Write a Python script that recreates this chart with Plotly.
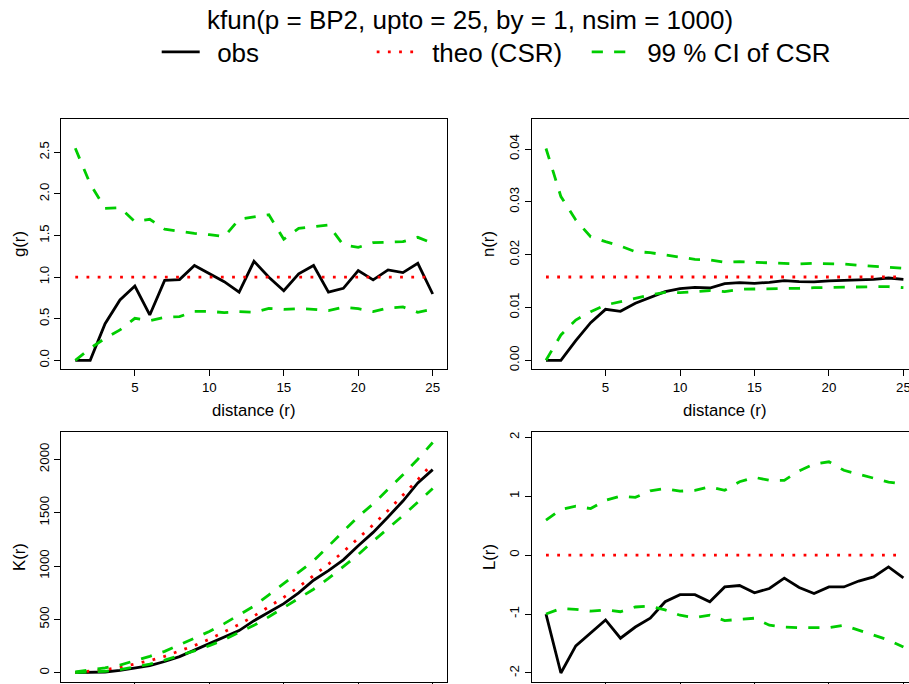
import plotly.graph_objects as go

# ---- data -------------------------------------------------------------
r = [1, 2, 3, 4, 5, 6, 7, 8, 9, 10, 11, 12, 13, 14, 15, 16, 17, 18, 19, 20, 21, 22, 23, 24, 25]

g_obs = [0.0, 0.0, 0.44, 0.725, 0.893, 0.545, 0.96, 0.97, 1.14, 1.045, 0.945, 0.82, 1.19,
         0.998, 0.837, 1.04, 1.14, 0.82, 0.865, 1.078, 0.966, 1.086, 1.054, 1.166, 0.797]
g_theo = [1.0] * 25
g_hi = [2.548, 2.12, 1.827, 1.835, 1.667, 1.695, 1.575, 1.546, 1.526, 1.51, 1.486, 1.695, 1.727,
        1.75, 1.454, 1.587, 1.607, 1.627, 1.386, 1.358, 1.414, 1.418, 1.426, 1.478, 1.406]
g_lo = [0.0, 0.144, 0.264, 0.365, 0.505, 0.477, 0.517, 0.525, 0.589, 0.589, 0.573, 0.585, 0.577,
        0.625, 0.613, 0.621, 0.613, 0.597, 0.637, 0.621, 0.585, 0.629, 0.641, 0.577, 0.613]

n_obs = [0.0, 0.0, 0.00372, 0.00713, 0.00965, 0.00927, 0.01079, 0.01192, 0.0130, 0.01356, 0.01382,
         0.01369, 0.01451, 0.0147, 0.01457, 0.01476, 0.01508, 0.01489, 0.01483, 0.01502, 0.01508,
         0.0152, 0.01533, 0.01558, 0.01533]
n_theo = [0.01577] * 25
n_hi = [0.0401, 0.031, 0.02656, 0.0234, 0.02246, 0.02164, 0.02057, 0.02038, 0.01994, 0.0195, 0.01912,
        0.01899, 0.01855, 0.01868, 0.01855, 0.01836, 0.01823, 0.01823, 0.01836, 0.01836, 0.01823,
        0.01798, 0.01779, 0.01754, 0.01741]
n_lo = [0.0, 0.0048, 0.00763, 0.00921, 0.01047, 0.0111, 0.01186, 0.01237, 0.01287, 0.01281, 0.013,
        0.01319, 0.013, 0.01344, 0.0135, 0.0135, 0.0135, 0.01363, 0.01375, 0.01382, 0.01394,
        0.01394, 0.01394, 0.01394, 0.01375]

K_obs = [0.0, 0.0, 6.7, 22.6, 47.8, 66.2, 105.0, 150.9, 211.8, 273.5, 335.2, 394.8, 487.7, 571.3,
         647.8, 748.4, 866.7, 956.6, 1057.9, 1189.7, 1315.1, 1460.3, 1608.9, 1779.5, 1903.5]
K_theo = [3.14, 12.57, 28.27, 50.27, 78.54, 113.1, 153.9, 201.1, 254.5, 314.2, 380.1, 452.4, 530.9,
          615.8, 706.9, 804.2, 907.9, 1017.9, 1134.1, 1256.6, 1385.4, 1520.5, 1661.9, 1809.6, 1963.5]
K_hi = [7.98, 24.2, 46.1, 72.1, 110.5, 153.9, 200.1, 259.6, 322.4, 386.1, 460.0, 544.1, 624.6, 730.1,
        836.7, 937.0, 1048.6, 1186.0, 1326.0, 1463.7, 1582.0, 1716.5, 1855.1, 2001.4, 2157.3]
K_lo = [0.0, 3.77, 13.6, 29.2, 52.0, 79.8, 117.7, 159.9, 204.6, 253.3, 310.4, 378.7, 444.1, 524.0,
        609.6, 689.1, 782.3, 883.5, 992.0, 1106.8, 1232.9, 1350.0, 1472.5, 1598.9, 1726.1]

L_obs = [-1.0, -2.0, -1.54, -1.32, -1.10, -1.41, -1.22, -1.07, -0.79, -0.67, -0.67, -0.79, -0.54,
         -0.515, -0.64, -0.566, -0.39, -0.55, -0.65, -0.54, -0.54, -0.44, -0.37, -0.20, -0.385]
L_theo = [0.0] * 25
L_hi = [0.594, 0.775, 0.83, 0.79, 0.93, 1.0, 0.98, 1.09, 1.13, 1.086, 1.10, 1.16, 1.10, 1.245, 1.32,
        1.27, 1.27, 1.43, 1.545, 1.585, 1.44, 1.375, 1.30, 1.24, 1.205]
L_lo = [-1.0, -0.905, -0.92, -0.95, -0.93, -0.96, -0.88, -0.865, -0.93, -1.02, -1.06, -1.02, -1.11,
        -1.085, -1.07, -1.19, -1.22, -1.23, -1.23, -1.23, -1.19, -1.27, -1.35, -1.44, -1.56]

x_ticks = [5, 10, 15, 20, 25]
g_ticks = [0.0, 0.5, 1.0, 1.5, 2.0, 2.5]
g_ticktext = ["0.0", "0.5", "1.0", "1.5", "2.0", "2.5"]
n_ticks = [0.0, 0.01, 0.02, 0.03, 0.04]
n_ticktext = ["0.00", "0.01", "0.02", "0.03", "0.04"]
K_ticks = [0, 500, 1000, 1500, 2000]
K_ticktext = ["0", "500", "1000", "1500", "2000"]
L_ticks = [-2, -1, 0, 1, 2]
L_ticktext = ["-2", "-1", "0", "1", "2"]

title_text = "kfun(p = BP2, upto = 25, by = 1, nsim = 1000)"
legend_names = ["obs", "theo (CSR)", "99 % CI of CSR"]
x_label = "distance (r)"
y_labels = ["g(r)", "n(r)", "K(r)", "L(r)"]

# ---- styling ----------------------------------------------------------
W, H = 909, 684
FONT = "Liberation Sans, Arial, Helvetica, sans-serif"
GREEN = "#00CD00"
RED = "#FF0000"
LW = 2.8
obs_line = dict(color="black", width=LW)
theo_line = dict(color=RED, width=LW, dash="2.8px,8.4px")
ci_line = dict(color=GREEN, width=LW, dash="11.2px,11.2px")
PAD = "\u00a0\u2009"  # gap between legend key and its text


def px_x(p):
    return p / W


def px_y(p):
    return 1 - p / H


fig = go.Figure()

panels = [
    (g_obs, g_theo, g_hi, g_lo, "x", "y"),
    (n_obs, n_theo, n_hi, n_lo, "x2", "y2"),
    (K_obs, K_theo, K_hi, K_lo, "x3", "y3"),
    (L_obs, L_theo, L_hi, L_lo, "x4", "y4"),
]

for i, (obs, theo, hi, lo, xa, ya) in enumerate(panels):
    first = i == 0
    fig.add_trace(go.Scatter(x=r, y=obs, mode="lines", line=obs_line, xaxis=xa, yaxis=ya,
                             name=PAD + legend_names[0], showlegend=first, legend="legend"))
    fig.add_trace(go.Scatter(x=r, y=theo, mode="lines", line=theo_line, xaxis=xa, yaxis=ya,
                             name=PAD + legend_names[1], showlegend=first, legend="legend2"))
    fig.add_trace(go.Scatter(x=r, y=hi, mode="lines", line=ci_line, xaxis=xa, yaxis=ya,
                             name=PAD + legend_names[2], showlegend=first, legend="legend3"))
    fig.add_trace(go.Scatter(x=r, y=lo, mode="lines", line=ci_line, xaxis=xa, yaxis=ya,
                             name=PAD + legend_names[2], showlegend=False, legend="legend3"))

# plot boxes in pixels
left_x = [61, 447]
right_x = [531.7, 909]
top_y = [119, 369.3]
bot_y = [431.7, 682]
unit = (447 - 61) / 25.92  # px per r unit
right_max = 0.04 + (909 - 531.7) / unit

tickfont = dict(family=FONT, size=13.3, color="black")
common_x = dict(showline=True, linecolor="black", linewidth=1, mirror=True, ticks="outside",
                ticklen=6, tickwidth=1, tickcolor="black", tickvals=x_ticks, showgrid=False,
                zeroline=False, tickfont=tickfont, automargin=False, ticklabeloverflow="allow")
common_y = dict(showline=True, linecolor="black", linewidth=1, ticks="outside", ticklen=6,
                tickwidth=1, tickcolor="black", showgrid=False, zeroline=False, tickfont=tickfont,
                tickangle=-90, automargin=False)

fig.update_layout(
    xaxis=dict(common_x, domain=[px_x(left_x[0]), px_x(left_x[1])], range=[0.04, 25.96], anchor="y"),
    yaxis=dict(common_y, domain=[px_y(top_y[1]), px_y(top_y[0])], range=[-0.108, 2.90], anchor="x",
               mirror=True, tickvals=g_ticks, ticktext=g_ticktext),
    xaxis2=dict(common_x, domain=[px_x(right_x[0]), 1.0], range=[0.04, right_max], anchor="y2"),
    yaxis2=dict(common_y, domain=[px_y(top_y[1]), px_y(top_y[0])], range=[-0.0017, 0.04568],
                anchor="x2", mirror=False, tickvals=n_ticks, ticktext=n_ticktext),
    xaxis3=dict(common_x, domain=[px_x(left_x[0]), px_x(left_x[1])], range=[0.04, 25.96],
                anchor="y3", showticklabels=False),
    yaxis3=dict(common_y, domain=[px_y(bot_y[1]), px_y(bot_y[0])], range=[-87, 2259], anchor="x3",
                mirror=True, tickvals=K_ticks, ticktext=K_ticktext),
    xaxis4=dict(common_x, domain=[px_x(right_x[0]), 1.0], range=[0.04, right_max], anchor="y4",
                showticklabels=False),
    yaxis4=dict(common_y, domain=[px_y(bot_y[1]), px_y(bot_y[0])], range=[-2.153, 2.095],
                anchor="x4", mirror=False, tickvals=L_ticks, ticktext=L_ticktext),
)

lab_font = dict(family=FONT, size=16.7, color="black")
annotations = [
    dict(text=title_text, x=px_x(470), y=px_y(20), font=dict(family=FONT, size=26, color="black")),
    dict(text=x_label, x=px_x(254), y=px_y(410), font=lab_font),
    dict(text=x_label, x=px_x(724), y=px_y(410), font=lab_font),
    dict(text=y_labels[0], x=px_x(20), y=px_y(244), textangle=-90, font=lab_font),
    dict(text=y_labels[1], x=px_x(489), y=px_y(244), textangle=-90, font=lab_font),
    dict(text=y_labels[2], x=px_x(19), y=px_y(557), textangle=-90, font=lab_font),
    dict(text=y_labels[3], x=px_x(489), y=px_y(557), textangle=-90, font=lab_font),
]
for a in annotations:
    a.update(xref="paper", yref="paper", showarrow=False, xanchor="center", yanchor="middle")


def legend_at(line_start):
    return dict(orientation="h", x=px_x(line_start - 5), y=px_y(52), xanchor="left",
                yanchor="middle", font=dict(family=FONT, size=26, color="black"),
                bgcolor="rgba(0,0,0,0)", itemwidth=38, itemclick=False, itemdoubleclick=False)


fig.update_layout(
    width=W, height=H, autosize=False,
    margin=dict(l=0, r=0, t=0, b=0),
    paper_bgcolor="white", plot_bgcolor="white",
    font=dict(family=FONT, color="black"),
    annotations=annotations,
    showlegend=True,
    legend=legend_at(161.7),
    legend2=legend_at(376.7),
    legend3=legend_at(591.7),
)

fig.write_html("out.html")
